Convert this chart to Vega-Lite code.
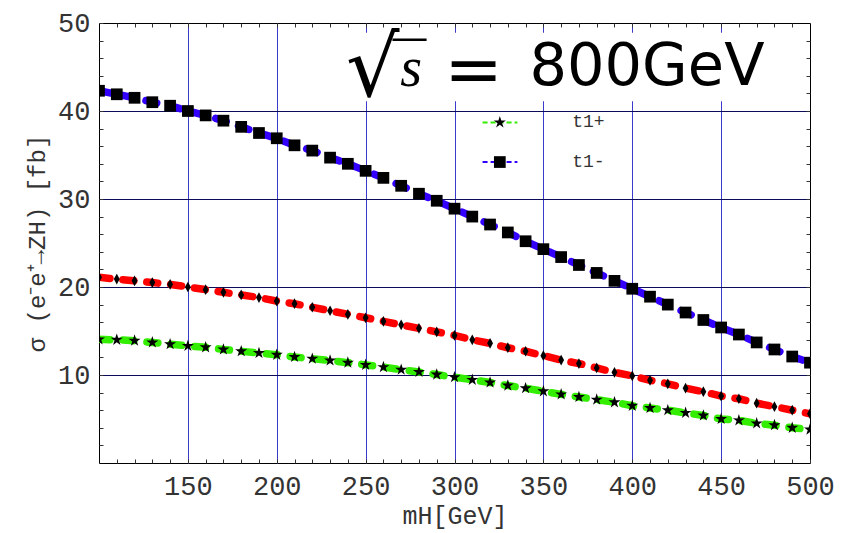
{
  "$schema": "https://vega.github.io/schema/vega-lite/v6.json",
  "width": 711,
  "height": 440,
  "autosize": {"type": "none"},
  "padding": {"left": 99, "top": 23, "right": 41, "bottom": 70},
  "background": "white",
  "config": {"view": {"stroke": "black", "strokeWidth": 1}},
  "datasets": {
    "curves": [
      {"mH":100,"sigma":42.3,"series":"t1-"},{"mH":110,"sigma":41.9,"series":"t1-"},{"mH":120,"sigma":41.5,"series":"t1-"},{"mH":130,"sigma":41.0,"series":"t1-"},{"mH":140,"sigma":40.6,"series":"t1-"},{"mH":150,"sigma":40.0,"series":"t1-"},{"mH":160,"sigma":39.5,"series":"t1-"},{"mH":170,"sigma":38.9,"series":"t1-"},{"mH":180,"sigma":38.2,"series":"t1-"},{"mH":190,"sigma":37.5,"series":"t1-"},{"mH":200,"sigma":36.9,"series":"t1-"},{"mH":210,"sigma":36.1,"series":"t1-"},{"mH":220,"sigma":35.5,"series":"t1-"},{"mH":230,"sigma":34.7,"series":"t1-"},{"mH":240,"sigma":34.0,"series":"t1-"},{"mH":250,"sigma":33.2,"series":"t1-"},{"mH":260,"sigma":32.4,"series":"t1-"},{"mH":270,"sigma":31.5,"series":"t1-"},{"mH":280,"sigma":30.6,"series":"t1-"},{"mH":290,"sigma":29.8,"series":"t1-"},{"mH":300,"sigma":28.9,"series":"t1-"},{"mH":310,"sigma":28.0,"series":"t1-"},{"mH":320,"sigma":27.1,"series":"t1-"},{"mH":330,"sigma":26.2,"series":"t1-"},{"mH":340,"sigma":25.2,"series":"t1-"},{"mH":350,"sigma":24.3,"series":"t1-"},{"mH":360,"sigma":23.4,"series":"t1-"},{"mH":370,"sigma":22.5,"series":"t1-"},{"mH":380,"sigma":21.6,"series":"t1-"},{"mH":390,"sigma":20.7,"series":"t1-"},{"mH":400,"sigma":19.8,"series":"t1-"},{"mH":410,"sigma":18.9,"series":"t1-"},{"mH":420,"sigma":18.0,"series":"t1-"},{"mH":430,"sigma":17.1,"series":"t1-"},{"mH":440,"sigma":16.25,"series":"t1-"},{"mH":450,"sigma":15.4,"series":"t1-"},{"mH":460,"sigma":14.6,"series":"t1-"},{"mH":470,"sigma":13.7,"series":"t1-"},{"mH":480,"sigma":12.9,"series":"t1-"},{"mH":490,"sigma":12.1,"series":"t1-"},{"mH":500,"sigma":11.4,"series":"t1-"},
      {"mH":100,"sigma":21.1,"series":"SM"},{"mH":110,"sigma":20.9,"series":"SM"},{"mH":120,"sigma":20.7,"series":"SM"},{"mH":130,"sigma":20.5,"series":"SM"},{"mH":140,"sigma":20.3,"series":"SM"},{"mH":150,"sigma":20.0,"series":"SM"},{"mH":160,"sigma":19.7,"series":"SM"},{"mH":170,"sigma":19.4,"series":"SM"},{"mH":180,"sigma":19.1,"series":"SM"},{"mH":190,"sigma":18.8,"series":"SM"},{"mH":200,"sigma":18.4,"series":"SM"},{"mH":210,"sigma":18.1,"series":"SM"},{"mH":220,"sigma":17.7,"series":"SM"},{"mH":230,"sigma":17.3,"series":"SM"},{"mH":240,"sigma":16.9,"series":"SM"},{"mH":250,"sigma":16.5,"series":"SM"},{"mH":260,"sigma":16.1,"series":"SM"},{"mH":270,"sigma":15.7,"series":"SM"},{"mH":280,"sigma":15.3,"series":"SM"},{"mH":290,"sigma":14.9,"series":"SM"},{"mH":300,"sigma":14.5,"series":"SM"},{"mH":310,"sigma":14.0,"series":"SM"},{"mH":320,"sigma":13.6,"series":"SM"},{"mH":330,"sigma":13.1,"series":"SM"},{"mH":340,"sigma":12.7,"series":"SM"},{"mH":350,"sigma":12.2,"series":"SM"},{"mH":360,"sigma":11.7,"series":"SM"},{"mH":370,"sigma":11.3,"series":"SM"},{"mH":380,"sigma":10.8,"series":"SM"},{"mH":390,"sigma":10.3,"series":"SM"},{"mH":400,"sigma":9.9,"series":"SM"},{"mH":410,"sigma":9.4,"series":"SM"},{"mH":420,"sigma":9.0,"series":"SM"},{"mH":430,"sigma":8.5,"series":"SM"},{"mH":440,"sigma":8.1,"series":"SM"},{"mH":450,"sigma":7.6,"series":"SM"},{"mH":460,"sigma":7.3,"series":"SM"},{"mH":470,"sigma":6.8,"series":"SM"},{"mH":480,"sigma":6.4,"series":"SM"},{"mH":490,"sigma":6.0,"series":"SM"},{"mH":500,"sigma":5.6,"series":"SM"},
      {"mH":100,"sigma":14.05,"series":"t1+"},{"mH":110,"sigma":14.0,"series":"t1+"},{"mH":120,"sigma":13.9,"series":"t1+"},{"mH":130,"sigma":13.7,"series":"t1+"},{"mH":140,"sigma":13.5,"series":"t1+"},{"mH":150,"sigma":13.3,"series":"t1+"},{"mH":160,"sigma":13.15,"series":"t1+"},{"mH":170,"sigma":12.9,"series":"t1+"},{"mH":180,"sigma":12.7,"series":"t1+"},{"mH":190,"sigma":12.5,"series":"t1+"},{"mH":200,"sigma":12.3,"series":"t1+"},{"mH":210,"sigma":12.05,"series":"t1+"},{"mH":220,"sigma":11.85,"series":"t1+"},{"mH":230,"sigma":11.65,"series":"t1+"},{"mH":240,"sigma":11.4,"series":"t1+"},{"mH":250,"sigma":11.15,"series":"t1+"},{"mH":260,"sigma":10.9,"series":"t1+"},{"mH":270,"sigma":10.6,"series":"t1+"},{"mH":280,"sigma":10.35,"series":"t1+"},{"mH":290,"sigma":10.05,"series":"t1+"},{"mH":300,"sigma":9.75,"series":"t1+"},{"mH":310,"sigma":9.45,"series":"t1+"},{"mH":320,"sigma":9.15,"series":"t1+"},{"mH":330,"sigma":8.8,"series":"t1+"},{"mH":340,"sigma":8.5,"series":"t1+"},{"mH":350,"sigma":8.15,"series":"t1+"},{"mH":360,"sigma":7.8,"series":"t1+"},{"mH":370,"sigma":7.5,"series":"t1+"},{"mH":380,"sigma":7.2,"series":"t1+"},{"mH":390,"sigma":6.9,"series":"t1+"},{"mH":400,"sigma":6.5,"series":"t1+"},{"mH":410,"sigma":6.25,"series":"t1+"},{"mH":420,"sigma":6.0,"series":"t1+"},{"mH":430,"sigma":5.7,"series":"t1+"},{"mH":440,"sigma":5.4,"series":"t1+"},{"mH":450,"sigma":5.0,"series":"t1+"},{"mH":460,"sigma":4.85,"series":"t1+"},{"mH":470,"sigma":4.5,"series":"t1+"},{"mH":480,"sigma":4.3,"series":"t1+"},{"mH":490,"sigma":4.0,"series":"t1+"},{"mH":500,"sigma":3.8,"series":"t1+"}
    ],
    "legend": [
      {"series":"t1+","xa":315.8,"xb":335.4,"xm":325.5,"tx":366.2,"y":38.7,"label":"t1+"},
      {"series":"t1-","xa":315.8,"xb":335.4,"xm":325.5,"tx":366.2,"y":34.2,"label":"t1-"}
    ]
  },
  "layer": [
    {
      "data": {"values": [{"x0": 213, "x1": 494, "y0": 41.1, "y1": 48.9}]},
      "mark": {"type": "rect", "fill": "white"},
      "encoding": {
        "x": {"field": "x0", "type": "quantitative", "axis": null},
        "x2": {"field": "x1"},
        "y": {"field": "y0", "type": "quantitative", "axis": null},
        "y2": {"field": "y1"}
      }
    },
    {
      "data": {"name": "curves"},
      "mark": {"type": "line", "strokeWidth": 7.5, "strokeDash": [11, 13], "strokeCap": "round", "clip": true},
      "encoding": {
        "x": {
          "field": "mH", "type": "quantitative",
          "scale": {"domain": [100, 500], "nice": false, "zero": false},
          "axis": {
            "orient": "bottom",
            "values": [110,120,130,140,150,160,170,180,190,200,210,220,230,240,250,260,270,280,290,300,310,320,330,340,350,360,370,380,390,400,410,420,430,440,450,460,470,480,490,500],
            "labelExpr": "datum.value % 50 === 0 ? datum.label : ''",
            "grid": true, "gridColor": "#3a3ac8", "gridWidth": 1,
            "gridOpacity": {"condition": {"test": "datum.value % 50 === 0 && datum.value < 500", "value": 1}, "value": 0},
            "domain": false, "ticks": true, "tickSize": -4, "tickColor": "#333333",
            "labelFont": "Liberation Mono", "labelFontSize": 27, "labelColor": "#333333",
            "labelPadding": 14, "labelFlush": false, "labelOverlap": false, "labelBound": false,
            "title": "mH[GeV]", "titleFont": "Liberation Mono", "titleFontSize": 25, "titleFontWeight": "normal",
            "titleColor": "#333333", "titleBaseline": "alphabetic", "titleY": 60
          }
        },
        "y": {
          "field": "sigma", "type": "quantitative",
          "scale": {"domain": [0, 50], "nice": false, "zero": false},
          "axis": {
            "orient": "left",
            "values": [2,4,6,8,10,12,14,16,18,20,22,24,26,28,30,32,34,36,38,40,42,44,46,48,50],
            "labelExpr": "datum.value % 10 === 0 ? datum.label : ''",
            "grid": true, "gridColor": "#0c0c5a", "gridWidth": 1,
            "gridOpacity": {"condition": {"test": "datum.value % 10 === 0 && datum.value < 50", "value": 1}, "value": 0},
            "domain": false, "ticks": true, "tickSize": -4, "tickColor": "#333333",
            "labelFont": "Liberation Mono", "labelFontSize": 27, "labelColor": "#333333",
            "labelPadding": 13, "labelFlush": false, "labelOverlap": false, "labelBound": false,
            "title": "σ (e⁻e⁺→ZH) [fb]", "titleFont": "Liberation Mono", "titleFontSize": 24, "titleFontWeight": "normal",
            "titleColor": "#333333", "titleAngle": 270, "titleBaseline": "alphabetic", "titleX": -55, "titleY": 220, "titleAlign": "center"
          }
        },
        "color": {"field": "series", "type": "nominal", "scale": {"domain": ["t1+", "t1-", "SM"], "range": ["#33ee00", "#3300ff", "#ff0000"]}, "legend": null}
      }
    },
    {
      "data": {"name": "curves"},
      "mark": {"type": "point", "filled": true, "color": "black", "opacity": 1, "clip": true},
      "encoding": {
        "x": {
          "field": "mH", "type": "quantitative",
          "axis": {"orient": "top", "values": [110,120,130,140,150,160,170,180,190,200,210,220,230,240,250,260,270,280,290,300,310,320,330,340,350,360,370,380,390,400,410,420,430,440,450,460,470,480,490], "labels": false, "grid": false, "domain": false, "tickSize": -4, "tickColor": "#333333", "title": null}
        },
        "y": {
          "field": "sigma", "type": "quantitative",
          "axis": {"orient": "right", "values": [2,4,6,8,10,12,14,16,18,20,22,24,26,28,30,32,34,36,38,40,42,44,46,48], "labels": false, "grid": false, "domain": false, "tickSize": -4, "tickColor": "#333333", "title": null}
        },
        "shape": {"field": "series", "type": "nominal", "scale": {"domain": ["t1+", "t1-", "SM"], "range": ["M0,-1L0.223,-0.307L0.951,-0.309L0.361,0.117L0.588,0.809L0,0.38L-0.588,0.809L-0.361,0.117L-0.951,-0.309L-0.223,-0.307Z", "square", "M0,-1L0.55,0L0,1L-0.55,0Z"]}, "legend": null},
        "size": {"field": "series", "type": "nominal", "scale": {"domain": ["t1+", "t1-", "SM"], "range": [160, 115, 140]}, "legend": null}
      }
    },
    {
      "data": {"name": "legend"},
      "mark": {"type": "rule", "strokeWidth": 2, "strokeDash": [5, 3]},
      "encoding": {
        "x": {"field": "xa", "type": "quantitative", "axis": null},
        "x2": {"field": "xb"},
        "y": {"field": "y", "type": "quantitative", "axis": null},
        "color": {"field": "series", "type": "nominal", "legend": null}
      }
    },
    {
      "data": {"name": "legend"},
      "mark": {"type": "point", "filled": true, "color": "black", "opacity": 1},
      "encoding": {
        "x": {"field": "xm", "type": "quantitative", "axis": null},
        "y": {"field": "y", "type": "quantitative", "axis": null},
        "shape": {"field": "series", "type": "nominal", "legend": null},
        "size": {"field": "series", "type": "nominal", "legend": null}
      }
    },
    {
      "data": {"name": "legend"},
      "mark": {"type": "text", "font": "Liberation Mono", "fontSize": 18, "align": "left", "baseline": "middle", "color": "#333333"},
      "encoding": {
        "x": {"field": "tx", "type": "quantitative", "axis": null},
        "y": {"field": "y", "type": "quantitative", "axis": null},
        "text": {"field": "label"}
      }
    },
    {
      "data": {"values": [{"x": 238.9, "y": 41.76, "t": "√"}]},
      "mark": {"type": "text", "font": "DejaVu Sans", "fontSize": 84, "align": "left", "baseline": "alphabetic", "color": "black"},
      "encoding": {
        "x": {"field": "x", "type": "quantitative", "axis": null},
        "y": {"field": "y", "type": "quantitative", "axis": null},
        "text": {"field": "t"}
      }
    },
    {
      "data": {"values": [{"xa": 265.1, "xb": 284.3, "y": 48.1}]},
      "mark": {"type": "rule", "strokeWidth": 2.5, "color": "black"},
      "encoding": {
        "x": {"field": "xa", "type": "quantitative", "axis": null},
        "x2": {"field": "xb"},
        "y": {"field": "y", "type": "quantitative", "axis": null}
      }
    },
    {
      "data": {"values": [{"x": 275.6, "y": 42.84, "t": "s"}]},
      "mark": {"type": "text", "font": "Liberation Serif", "fontStyle": "italic", "fontSize": 56, "align": "center", "baseline": "alphabetic", "color": "black"},
      "encoding": {
        "x": {"field": "x", "type": "quantitative", "axis": null},
        "y": {"field": "y", "type": "quantitative", "axis": null},
        "text": {"field": "t"}
      }
    },
    {
      "data": {"values": [{"x": 310.7, "y": 42.0, "t": "="}]},
      "mark": {"type": "text", "font": "DejaVu Sans", "fontSize": 70, "align": "center", "baseline": "alphabetic", "color": "black"},
      "encoding": {
        "x": {"field": "x", "type": "quantitative", "axis": null},
        "y": {"field": "y", "type": "quantitative", "axis": null},
        "text": {"field": "t"}
      }
    },
    {
      "data": {"values": [{"x": 408.3, "y": 42.95, "t": "800GeV"}]},
      "mark": {"type": "text", "font": "DejaVu Sans", "fontSize": 59, "align": "center", "baseline": "alphabetic", "color": "black"},
      "encoding": {
        "x": {"field": "x", "type": "quantitative", "axis": null},
        "y": {"field": "y", "type": "quantitative", "axis": null},
        "text": {"field": "t"}
      }
    }
  ],
  "resolve": {"axis": {"x": "independent", "y": "independent"}}
}
